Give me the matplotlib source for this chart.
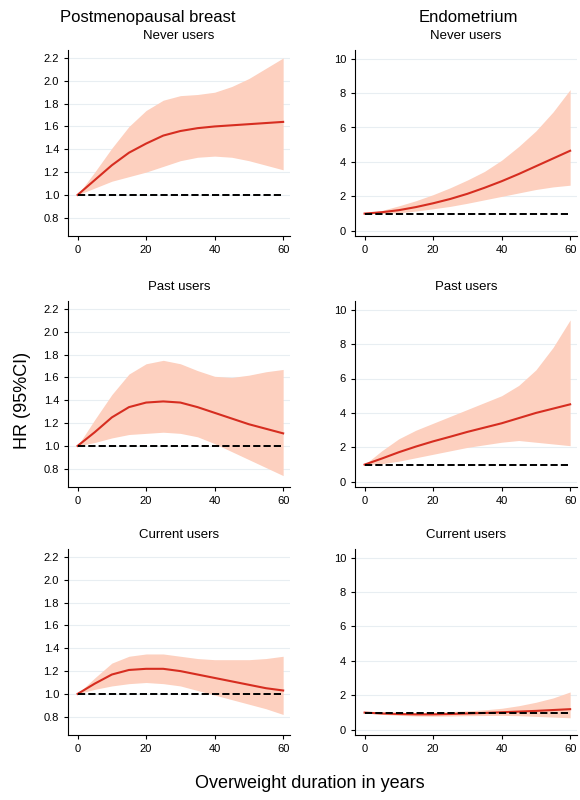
import numpy as np
import matplotlib.pyplot as plt

years = [0, 5, 10, 15, 20, 25, 30, 35, 40, 45, 50, 55, 60]

# breast, hr / lower / upper
br_never = [1.0, 1.13, 1.26, 1.37, 1.45, 1.52, 1.56, 1.585, 1.60, 1.61, 1.62, 1.63, 1.64]
br_never_lo = [1.0, 1.06, 1.12, 1.16, 1.20, 1.25, 1.30, 1.33, 1.34, 1.33, 1.30, 1.26, 1.22]
br_never_hi = [1.0, 1.20, 1.41, 1.60, 1.74, 1.83, 1.87, 1.88, 1.90, 1.95, 2.02, 2.11, 2.20]
br_past = [1.0, 1.12, 1.25, 1.34, 1.38, 1.39, 1.38, 1.34, 1.29, 1.24, 1.19, 1.15, 1.11]
br_past_lo = [1.0, 1.03, 1.07, 1.10, 1.11, 1.12, 1.11, 1.08, 1.02, 0.95, 0.88, 0.81, 0.74]
br_past_hi = [1.0, 1.23, 1.45, 1.63, 1.72, 1.75, 1.72, 1.66, 1.61, 1.60, 1.62, 1.65, 1.67]
br_curr = [1.0, 1.09, 1.17, 1.21, 1.22, 1.22, 1.20, 1.17, 1.14, 1.11, 1.08, 1.05, 1.03]
br_curr_lo = [1.0, 1.04, 1.07, 1.09, 1.10, 1.09, 1.07, 1.03, 0.99, 0.95, 0.91, 0.87, 0.82]
br_curr_hi = [1.0, 1.14, 1.27, 1.33, 1.35, 1.35, 1.33, 1.31, 1.30, 1.30, 1.30, 1.31, 1.33]

# endometrium
en_never = [1.0, 1.08, 1.2, 1.38, 1.6, 1.85, 2.15, 2.5, 2.88, 3.3, 3.75, 4.2, 4.65]
en_never_lo = [1.0, 1.0, 1.05, 1.15, 1.28, 1.42, 1.6, 1.8, 2.0, 2.2, 2.4, 2.55, 2.65]
en_never_hi = [1.0, 1.18, 1.45, 1.75, 2.1, 2.5, 2.95, 3.45, 4.1, 4.9, 5.8, 6.9, 8.2]
en_past = [1.0, 1.35, 1.72, 2.05, 2.35, 2.62, 2.9, 3.15, 3.4, 3.7, 4.0, 4.25, 4.5]
en_past_lo = [1.0, 1.05, 1.2, 1.4, 1.6, 1.8, 2.0, 2.15, 2.3, 2.4, 2.3, 2.2, 2.1]
en_past_hi = [1.0, 1.8, 2.5, 3.0, 3.4, 3.8, 4.2, 4.6, 5.0, 5.6, 6.5, 7.8, 9.4]
en_curr = [1.0, 0.95, 0.92, 0.9, 0.9, 0.92, 0.95, 0.98, 1.02, 1.06, 1.1, 1.15, 1.2]
en_curr_lo = [1.0, 0.9, 0.84, 0.8, 0.79, 0.8, 0.82, 0.83, 0.84, 0.82, 0.78, 0.74, 0.7]
en_curr_hi = [1.0, 1.0, 1.0, 1.0, 1.02, 1.06, 1.1, 1.16, 1.25, 1.4, 1.6, 1.85, 2.2]

titles = ["Never users", "Past users", "Current users"]
breast = [(br_never, br_never_lo, br_never_hi), (br_past, br_past_lo, br_past_hi), (br_curr, br_curr_lo, br_curr_hi)]
endo = [(en_never, en_never_lo, en_never_hi), (en_past, en_past_lo, en_past_hi), (en_curr, en_curr_lo, en_curr_hi)]

plt.rcParams['font.family'] = ['Liberation Sans', 'DejaVu Sans']
fig = plt.figure(figsize=(5.8, 8.0), dpi=100)

lefts = [68 / 580, 355 / 580]
width = 222 / 580
bottoms = [1 - 236 / 800, 1 - 487 / 800, 1 - 735 / 800]
height = 186 / 800

for col, data in enumerate([breast, endo]):
    for row, (hr, lo, hi) in enumerate(data):
        ax = fig.add_axes([lefts[col], bottoms[row], width, height])
        ax.fill_between(years, lo, hi, color='#fdd0bf', lw=0)
        ax.plot(years, hr, color='#d62d20', lw=1.5)
        ax.plot([0, 60], [1, 1], 'k--', lw=1.4)
        if col == 0:
            ax.set_ylim(0.64, 2.27)
            ax.set_yticks(np.arange(0.8, 2.21, 0.2))
            ax.yaxis.set_major_formatter(plt.FormatStrFormatter('%.1f'))
        else:
            ax.set_ylim(-0.3, 10.5)
            ax.set_yticks([0, 2, 4, 6, 8, 10])
        ax.set_xlim(-2.8, 62)
        ax.set_xticks([0, 20, 40, 60])
        ax.grid(axis='y', color='#e8eef2', lw=0.8)
        ax.set_axisbelow(True)
        for s in ['top', 'right']:
            ax.spines[s].set_visible(False)
        ax.tick_params(labelsize=8, length=3)
        ax.set_title(titles[row], fontsize=9.5, pad=8)

fig.text(148 / 580, 1 - 22 / 800, "Postmenopausal breast", ha='center', fontsize=12)
fig.text(468 / 580, 1 - 22 / 800, "Endometrium", ha='center', fontsize=12)
fig.text(14 / 580, 0.5, "HR (95%CI)", rotation=90, va='center', fontsize=13)
fig.text(310 / 580, 1 - 788 / 800, "Overweight duration in years", ha='center', fontsize=13)

fig.savefig("out.png")
